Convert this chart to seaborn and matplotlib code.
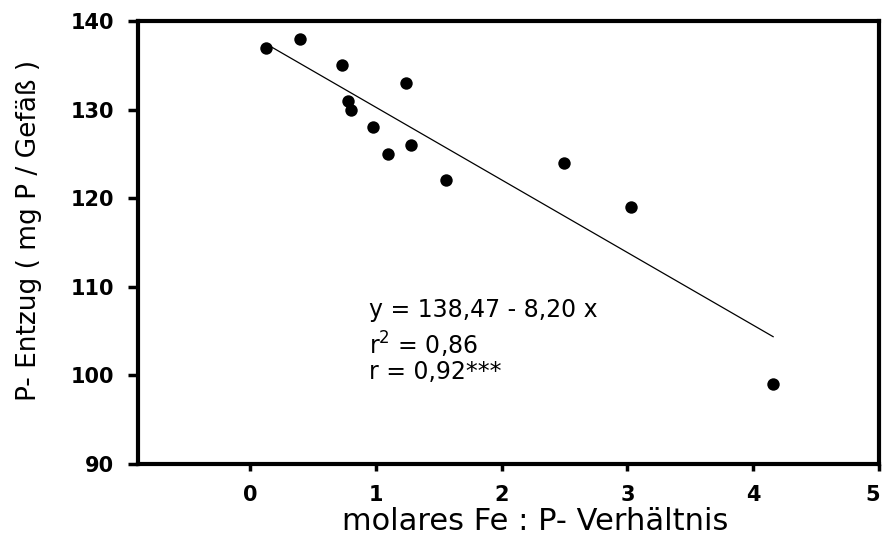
import matplotlib
matplotlib.use("Agg")
import matplotlib.pyplot as plt
import matplotlib.transforms as mtransforms
import seaborn as sns
import numpy as np
import pandas as pd

# Data
fe_p_ratio = [0.13, 0.40, 0.73, 0.78, 0.80, 0.98, 1.10, 1.24, 1.28, 1.56, 2.50, 3.03, 4.16]
p_entzug = [137, 138, 135, 131, 130, 128, 125, 133, 126, 122, 124, 119, 99]
intercept = 138.47
slope = -8.20
x_ticks = [0, 1, 2, 3, 4, 5]
y_ticks = [90, 100, 110, 120, 130, 140]
annotation_lines = ["y = 138,47 - 8,20 x", r"r$^{\mathrm{2}}$ = 0,86", "r = 0,92***"]

df = pd.DataFrame({"x": fe_p_ratio, "y": p_entzug})
line_x = np.array([min(fe_p_ratio), max(fe_p_ratio)])
line_df = pd.DataFrame({"x": line_x, "y": intercept + slope * line_x})

sns.set_theme(style="white")
plt.rcParams["font.family"] = ["DejaVu Sans"]
plt.rcParams["text.color"] = "black"
plt.rcParams["axes.labelcolor"] = "black"
plt.rcParams["xtick.color"] = "black"
plt.rcParams["ytick.color"] = "black"

fig = plt.figure(figsize=(8.83, 5.38), dpi=100)
ax = fig.add_axes([138 / 883, 1 - 464 / 538, (879 - 138) / 883, (464 - 21) / 538])

sns.lineplot(data=line_df, x="x", y="y", ax=ax, color="black", linewidth=0.9)
sns.scatterplot(data=df, x="x", y="y", ax=ax, color="black", s=80, edgecolor="black", linewidth=0, zorder=3)

ax.set_xlim(-0.89, 5)
ax.set_ylim(90, 140)
ax.set_xticks(x_ticks)
ax.set_yticks(y_ticks)
ax.set_xticklabels([str(t) for t in x_ticks], fontweight="bold", fontsize=15)
ax.set_yticklabels([str(t) for t in y_ticks], fontweight="bold", fontsize=15)
ax.tick_params(axis="x", direction="out", length=5, width=2.5, pad=10, colors="black")
ax.tick_params(axis="y", direction="out", length=7, width=2.5, pad=10, colors="black")
ax.xaxis.set_ticks_position("bottom")
ax.yaxis.set_ticks_position("left")

# keep the last x tick label inside the figure
last = ax.get_xticklabels()[-1]
last.set_transform(last.get_transform() + mtransforms.ScaledTranslation(-6 / 100, 0, fig.dpi_scale_trans))

for sp in ax.spines.values():
    sp.set_visible(True)
    sp.set_color("black")
    sp.set_linewidth(3)

ax.set_xlabel("molares Fe : P- Verhältnis", fontsize=22, color="black")
ax.xaxis.set_label_coords(0.536, -0.098)
ax.set_ylabel("P- Entzug ( mg P / Gefäß )", fontsize=19, color="black")
ax.yaxis.set_label_coords(-0.13, 0.528)

ys = [107.4, 103.4, 100.4]
for txt, yv in zip(annotation_lines, ys):
    ax.text(0.95, yv, txt, fontsize=17, va="center", ha="left", color="black")

fig.savefig("out.png", dpi=100)
